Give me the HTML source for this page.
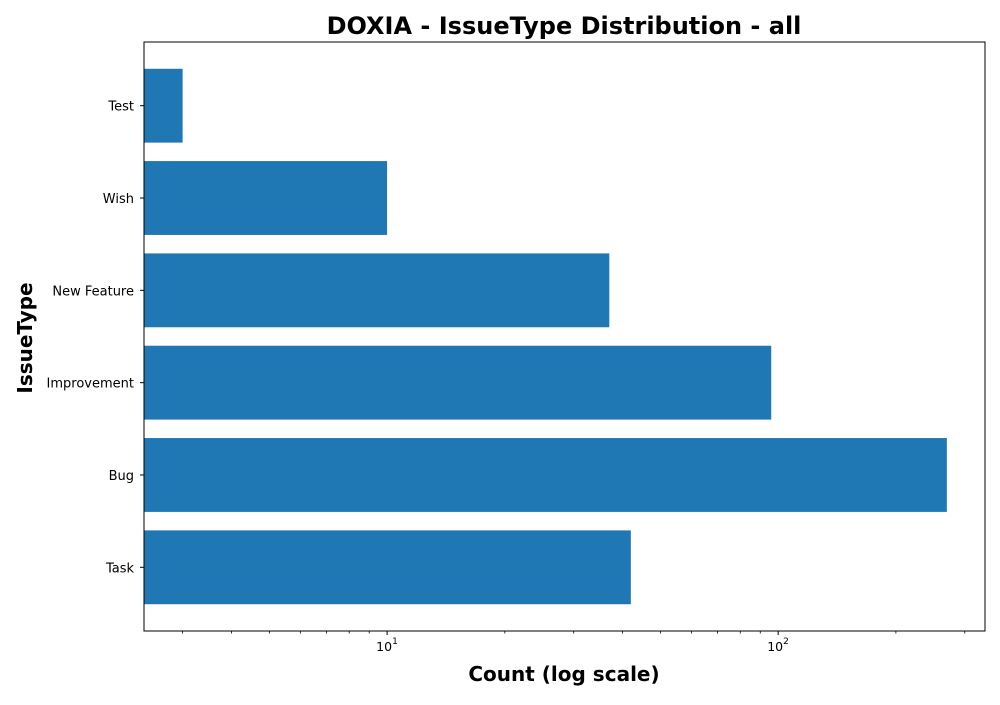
<!DOCTYPE html>
<html><head><meta charset="utf-8"><style>
body{margin:0;background:#fff;font-family:"Liberation Sans","DejaVu Sans",sans-serif;}
</style></head><body>
<svg width="1000" height="700" xmlns="http://www.w3.org/2000/svg" font-family="'DejaVu Sans','Liberation Sans',sans-serif">
<text x="564" y="34" text-anchor="middle" font-size="24" font-weight="bold">DOXIA - IssueType Distribution - all</text>
<g id="plot"></g>
<text x="564" y="681" text-anchor="middle" font-size="20" font-weight="bold">Count (log scale)</text>
<text x="0" y="0" transform="translate(32,338) rotate(-90)" text-anchor="middle" font-size="20" font-weight="bold">IssueType</text>
</svg>
<script>
const categories = ["Task","Bug","Improvement","New Feature","Wish","Test"];
const counts = [42,270,96,37,10,3];
const xMin = 2.39, xMax = 338;
const majorTicks = [10,100];
const majorLabels = ["10","10"];
const majorExps = ["1","2"];
const minorTicks = [3,4,5,6,7,8,9,20,30,40,50,60,70,80,90,200,300];

const L=144,R=985,T=42,B=631;
const NS="http://www.w3.org/2000/svg";
const g=document.getElementById('plot');
function x(v){return L+(Math.log10(v)-Math.log10(xMin))/(Math.log10(xMax)-Math.log10(xMin))*(R-L);}
const n=categories.length;
const pad=0.4+0.05*(n-1+0.8);
const step=(B-T)/(n-1+2*pad);
function y(i){return B-step*pad-i*step;}
function el(t,a){const e=document.createElementNS(NS,t);for(const k in a)e.setAttribute(k,a[k]);g.appendChild(e);return e;}
categories.forEach((c,i)=>{
  const h=step*0.8;
  const r=el('rect',{x:L,y:y(i)-h/2,width:x(counts[i])-L,height:h,fill:'#1f77b4'});
  
  
  el('line',{x1:L-4,x2:L,y1:y(i),y2:y(i),stroke:'#000','stroke-width':1});
  const t=el('text',{x:L-10,y:y(i)+5,'text-anchor':'end','font-size':13});
  t.textContent=c;
  
  
});
minorTicks.forEach(v=>{el('line',{x1:x(v),x2:x(v),y1:B,y2:B+2.5,stroke:'#000','stroke-width':0.8});});
majorTicks.forEach((v,i)=>{
  el('line',{x1:x(v),x2:x(v),y1:B,y2:B+4,stroke:'#000','stroke-width':1});
  const t=el('text',{x:x(v)-3,y:B+20,'text-anchor':'middle','font-size':12.5});
  t.textContent=majorLabels[i];
  
  
  const s=el('text',{x:x(v)+5,y:B+13,'text-anchor':'start','font-size':9});
  s.textContent=majorExps[i];
});
const fr=el('rect',{x:L,y:T,width:R-L,height:B-T,fill:'none',stroke:'#000','stroke-width':1});


</script>
</body></html>
